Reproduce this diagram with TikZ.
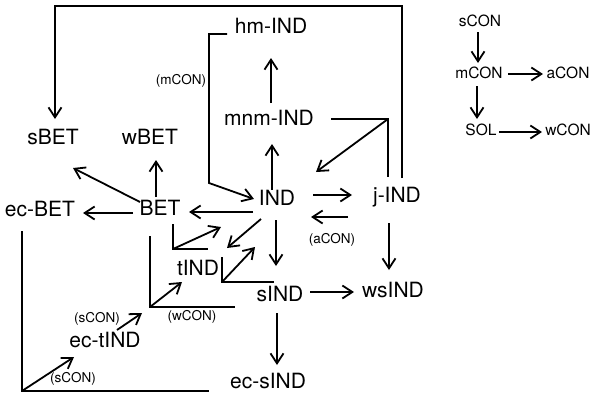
\documentclass[tikz,border=0pt]{standalone}
\usepackage{fontspec}
\setmainfont{TeX Gyre Heros}
\usetikzlibrary{arrows.meta}
\begin{document}
\begin{tikzpicture}[x=1pt,y=-1pt,
  line width=1.8pt,
  arr/.style={-{Straight Barb[length=10pt,width=13pt,line width=1.8pt]}},
  big/.style={inner sep=0pt,text height=.72em,text depth=0pt,font=\fontsize{21}{25}\selectfont},
  lab/.style={inner sep=0pt,text height=.72em,text depth=0pt,font=\fontsize{13.5}{16}\selectfont},
  key/.style={inner sep=0pt,text height=.72em,text depth=0pt,font=\fontsize{15.5}{18}\selectfont}]
\useasboundingbox (0,0) rectangle (590,397);

% main terms
\node[big] (sBET)   at (53,141)  {sBET};
\node[big] (wBET)   at (150,141) {wBET};
\node[big] (hmIND)  at (271,30)  {hm-IND};
\node[big] (mnmIND) at (269,122) {mnm-IND};
\node[big] (BET)    at (160,212) {BET};
\node[big] (ecBET)  at (40,213)  {ec-BET};
\node[big] (IND)    at (277,202) {IND};
\node[big] (jIND)   at (397,199) {j-IND};
\node[big] (tIND)   at (198,272) {tIND};
\node[big] (sIND)   at (280,298) {sIND};
\node[big] (wsIND)  at (393,294) {wsIND};
\node[big] (ectIND) at (105,344) {ec-tIND};
\node[big] (ecsIND) at (268,385) {ec-sIND};

% condition labels
\node[lab] (lm)  at (181,81)  {(mCON)};
\node[lab] (la)  at (332,240) {(aCON)};
\node[lab] (lw)  at (192,317) {(wCON)};
\node[lab] (ls1) at (97,319)  {(sCON)};
\node[lab] (ls2) at (73,379)  {(sCON)};

% condition key
\node[key] (ksCON) at (480,23)  {sCON};
\node[key] (kmCON) at (479,75)  {mCON};
\node[key] (kaCON) at (568,75)  {aCON};
\node[key] (kSOL)  at (481,132) {SOL};
\node[key] (kwCON) at (568,132) {wCON};

% anchor points of the connectors
\coordinate (jtop)  at (402,178);
\coordinate (tr)    at (402,6);
\coordinate (tl)    at (55,6);
\coordinate (sBETn) at (55,119);

\coordinate (mnmE)  at (331,119);
\coordinate (mnmC)  at (388,119);
\coordinate (mnmD)  at (388,177);
\coordinate (mnmT)  at (316,172);

\coordinate (hmW)   at (227,34);
\coordinate (mcA)   at (209,34);
\coordinate (mcB)   at (209,183);
\coordinate (mcT)   at (254,199);

\coordinate (mnmS)  at (271,103);
\coordinate (hmS)   at (271,58);
\coordinate (INDn)  at (272,190);
\coordinate (mnmB)  at (272,144);

\coordinate (INDw)  at (253,212);
\coordinate (BETe)  at (189,212);
\coordinate (BETw)  at (133,213);
\coordinate (ecBETe) at (83,213);
\coordinate (BETnw) at (140,202);
\coordinate (sBETse) at (73,168);
\coordinate (BETn)  at (156,197);
\coordinate (wBETs) at (156,160);

\coordinate (INDe1) at (313,195);
\coordinate (jw1)   at (352,195);
\coordinate (jw2)   at (348,217);
\coordinate (INDe2) at (311,217);
\coordinate (js)    at (389,223);
\coordinate (wsn)   at (389,270);
\coordinate (sINDe) at (310,292);
\coordinate (wsw)   at (354,292);
\coordinate (INDs)  at (276,220);
\coordinate (sINDn) at (276,266);
\coordinate (sINDs) at (277,313);
\coordinate (ecsn)  at (277,365);
\coordinate (INDsw) at (261,219);
\coordinate (tINDne) at (227,248);

\coordinate (b1a) at (173,224);
\coordinate (b1c) at (173,249);
\coordinate (b1e) at (208,249);
\coordinate (b1t) at (221,227);

\coordinate (b2a) at (222,257);
\coordinate (b2c) at (222,282);
\coordinate (b2e) at (274,282);
\coordinate (b2t) at (255,247);

\coordinate (b3a) at (150,236);
\coordinate (b3c) at (150,307);
\coordinate (b3e) at (235,307);
\coordinate (b3t) at (182,282);

\coordinate (ectne) at (117,330);
\coordinate (b3in)  at (142,313);

\coordinate (b4a) at (22,231);
\coordinate (b4c) at (22,391);
\coordinate (b4e) at (209,391);
\coordinate (b4t) at (74,357);

\coordinate (ks1) at (478,32);
\coordinate (ks2) at (478,63);
\coordinate (km1) at (508,74);
\coordinate (km2) at (543,74);
\coordinate (km3) at (477,86);
\coordinate (km4) at (477,119);
\coordinate (kS1) at (499,132);
\coordinate (kS2) at (542,132);

% top loop from j-IND back to sBET
\draw[arr] (jtop) -- (tr) -- (tl) -- (sBETn);

% mnm-IND bracket into IND
\draw (mnmE) -- (mnmC) -- (mnmD);
\draw[arr] (mnmC) -- (mnmT);

% hm-IND bracket into IND (mCON)
\draw[arr] (hmW) -- (mcA) -- (mcB) -- (mcT);

\draw[arr] (mnmS) -- (hmS);
\draw[arr] (INDn) -- (mnmB);
\draw[arr] (INDw) -- (BETe);
\draw[arr] (BETw) -- (ecBETe);
\draw[arr] (BETnw) -- (sBETse);
\draw[arr] (BETn) -- (wBETs);
\draw[arr] (INDe1) -- (jw1);
\draw[arr] (jw2) -- (INDe2);
\draw[arr] (js) -- (wsn);
\draw[arr] (sINDe) -- (wsw);
\draw[arr] (INDs) -- (sINDn);
\draw[arr] (sINDs) -- (ecsn);
\draw[arr] (INDsw) -- (tINDne);

% brackets with their diagonal arrows
\draw (b1a) -- (b1c) -- (b1e);
\draw[arr] (b1c) -- (b1t);
\draw (b2a) -- (b2c) -- (b2e);
\draw[arr] (b2c) -- (b2t);
\draw (b3a) -- (b3c) -- (b3e);
\draw[arr] (b3c) -- (b3t);
\draw[arr] (ectne) -- (b3in);
\draw (b4a) -- (b4c) -- (b4e);
\draw[arr] (b4c) -- (b4t);

% condition key arrows
\draw[arr] (ks1) -- (ks2);
\draw[arr] (km1) -- (km2);
\draw[arr] (km3) -- (km4);
\draw[arr] (kS1) -- (kS2);
\end{tikzpicture}
\end{document}
